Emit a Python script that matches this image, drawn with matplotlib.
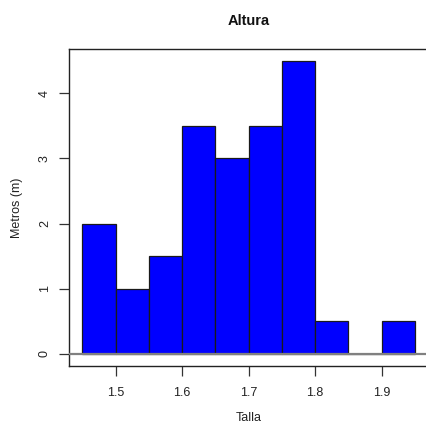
import matplotlib
matplotlib.use("Agg")
import matplotlib.pyplot as plt
import numpy as np

plt.rcParams['font.family'] = ['Liberation Sans', 'DejaVu Sans']

# histogram bins (Talla) and bar heights
edges = [1.45, 1.50, 1.55, 1.60, 1.65, 1.70, 1.75, 1.80, 1.85, 1.90, 1.95]
counts = [2, 1, 1.5, 3.5, 3, 3.5, 4.5, 0.5, 0, 0.5]
xticks = [1.5, 1.6, 1.7, 1.8, 1.9]
yticks = [0, 1, 2, 3, 4]

W, H = 427, 424
fig = plt.figure(figsize=(W / 100, H / 100), dpi=100)
# plot region like R's default hist: axes range padded 4 %
left, right, top, bottom = 69, 428.3, 49, 365.7
ax = fig.add_axes([left / W, (H - bottom) / H, (right - left) / W, (bottom - top) / H])

lefts = np.array(edges[:-1])
widths = np.diff(edges)
ax.bar(lefts, counts, width=widths, align='edge', color='#0000ff',
       edgecolor='#1a1a1a', linewidth=0.9, zorder=2)
ax.axhline(0, color='#808080', linewidth=1.6, zorder=3)

ax.set_xlim(1.43, 1.97)
ax.set_ylim(-0.18, 4.68)
ax.set_xticks(xticks)
ax.set_xticklabels([str(v) for v in xticks])
ax.set_yticks(yticks)
ax.set_yticklabels([str(v) for v in yticks], rotation=90, va='center')

for s in ax.spines.values():
    s.set_linewidth(1.0)
    s.set_color('#222222')
ax.tick_params(direction='out', length=7, width=0.9, color='#333333',
               labelsize=9, labelcolor='#222222')
ax.tick_params(axis='x', pad=8)
ax.tick_params(axis='y', pad=6)

# axis titles and main title placed in figure pixels
fig.text(248.5 / W, 1 - 418 / H, 'Talla', ha='center', va='center',
         fontsize=9, color='#222222')
fig.text(17 / W, 1 - 207.5 / H, 'Metros (m)', ha='center', va='center',
         rotation=90, fontsize=9, color='#222222')
fig.text(248.5 / W, 1 - 21 / H, 'Altura', ha='center', va='center',
         fontsize=10.5, fontweight='bold', color='#111111')

fig.savefig('out.png', dpi=100)
